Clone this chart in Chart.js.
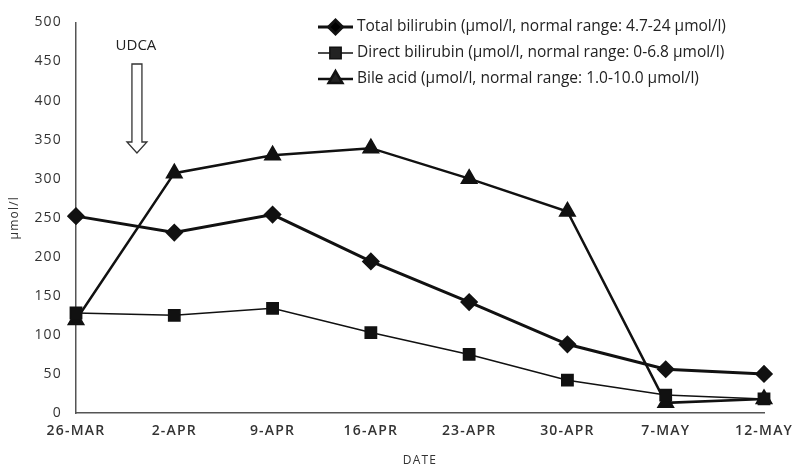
<!DOCTYPE html>
<html>
<head>
<meta charset="utf-8">
<script src="https://cdn.jsdelivr.net/npm/chart.js@4.4.0/dist/chart.umd.min.js"></script>
<style>
  html, body { margin: 0; padding: 0; background: #fff; }
  #wrap { width: 798px; height: 468px; }
</style>
</head>
<body>
<div id="wrap"><canvas id="myChart"></canvas></div>
<script>
// values
const dates = ['26-MAR', '2-APR', '9-APR', '16-APR', '23-APR', '30-APR', '7-MAY', '12-MAY'];
const totalBilirubin = [252, 231, 254, 194, 142, 88, 56, 50];
const directBilirubin = [128, 125, 134, 103, 75, 42, 23, 18];
const bileAcid = [119, 307, 330, 339, 300, 258, 13, 18];
const yTicks = [0, 50, 100, 150, 200, 250, 300, 350, 400, 450, 500];

const ink = '#111';

// legend: short line with the marker in the middle, then the label
const lineLegend = {
    id: 'lineLegend',
    afterDraw(chart) {
        const ctx = chart.ctx;
        ctx.save();
        ctx.letterSpacing = '0px';
        ctx.font = '15.5px "Open Sans", sans-serif';
        ctx.textBaseline = 'middle';
        chart.data.datasets.forEach(function (ds, i) {
            const y = 27 + i * 26;
            const x0 = 318, x1 = 353;
            ctx.strokeStyle = ink;
            ctx.lineWidth = ds.borderWidth;
            ctx.beginPath();
            ctx.moveTo(x0, y);
            ctx.lineTo(x1, y);
            ctx.stroke();
            Chart.helpers.drawPoint(ctx, {
                pointStyle: ds.pointStyle,
                radius: ds.pointRadius,
                borderWidth: 1
            }, (x0 + x1) / 2, y);
            ctx.fillStyle = '#222';
            ctx.fillText(ds.label, 357, y);
        });
        ctx.restore();
    }
};

// the hollow UDCA arrow and its label
const udcaArrow = {
    id: 'udcaArrow',
    afterDraw(chart) {
        const ctx = chart.ctx;
        const x = chart.scales.x.getPixelForValue(0.62);
        const top = 64, neck = 142, tip = 153;
        ctx.save();
        ctx.letterSpacing = '0px';
        ctx.fillStyle = '#222';
        ctx.font = '15px "Open Sans", sans-serif';
        ctx.textAlign = 'center';
        ctx.textBaseline = 'middle';
        ctx.fillText('UDCA', x - 1, 46);
        ctx.strokeStyle = '#333';
        ctx.lineWidth = 1.3;
        ctx.beginPath();
        ctx.moveTo(x - 5, top);
        ctx.lineTo(x + 5, top);
        ctx.lineTo(x + 5, neck);
        ctx.lineTo(x + 10, neck);
        ctx.lineTo(x, tip);
        ctx.lineTo(x - 10, neck);
        ctx.lineTo(x - 5, neck);
        ctx.closePath();
        ctx.stroke();
        ctx.restore();
    }
};

const spacing = {
    id: 'spacing',
    beforeDraw(chart) {
        chart.ctx.letterSpacing = '1.2px';
    }
};

new Chart(document.getElementById('myChart'), {
    type: 'line',
    data: {
        labels: dates,
        datasets: [
            {
                label: 'Total bilirubin (μmol/l, normal range: 4.7-24 μmol/l)',
                data: totalBilirubin,
                borderColor: ink,
                backgroundColor: ink,
                borderWidth: 3,
                pointStyle: 'rectRot',
                pointRadius: 7,
                pointHoverRadius: 7,
                tension: 0
            },
            {
                label: 'Direct bilirubin (μmol/l, normal range: 0-6.8 μmol/l)',
                data: directBilirubin,
                borderColor: ink,
                backgroundColor: ink,
                borderWidth: 1.5,
                pointStyle: 'rect',
                pointRadius: 8,
                pointHoverRadius: 8,
                tension: 0
            },
            {
                label: 'Bile acid (μmol/l, normal range: 1.0-10.0 μmol/l)',
                data: bileAcid,
                borderColor: ink,
                backgroundColor: ink,
                borderWidth: 2.5,
                pointStyle: 'triangle',
                pointRadius: 8,
                pointHoverRadius: 8,
                tension: 0
            }
        ]
    },
    options: {
        responsive: true,
        maintainAspectRatio: false,
        animation: false,
        layout: { padding: { top: 22, right: 34, left: 0, bottom: 0 } },
        plugins: {
            legend: { display: false },
            tooltip: { enabled: false }
        },
        scales: {
            x: {
                offset: false,
                grid: { display: false, drawTicks: true, tickLength: 6, tickColor: '#555' },
                border: { color: '#555', width: 1.5 },
                ticks: {
                    color: '#333',
                    font: { family: '"Open Sans", sans-serif', size: 14, weight: '600' },
                    maxRotation: 0,
                    autoSkip: false,
                    padding: 4
                },
                title: {
                    display: true,
                    text: 'DATE',
                    color: '#333',
                    font: { family: '"Open Sans", sans-serif', size: 12 },
                    padding: { top: 2, bottom: 0 }
                },
                afterFit(scale) { scale.height = 55; }
            },
            y: {
                min: 0,
                max: 500,
                afterBuildTicks(scale) { scale.ticks = yTicks.map(v => ({ value: v })); },
                grid: { display: false, drawTicks: false },
                border: { color: '#555', width: 1.5 },
                ticks: {
                    color: '#333',
                    font: { family: '"Open Sans", sans-serif', size: 14 },
                    padding: 14
                },
                title: {
                    display: true,
                    text: 'μmol/l',
                    color: '#333',
                    font: { family: '"Open Sans", sans-serif', size: 12 },
                    padding: { top: 7, bottom: 0 }
                },
                afterFit(scale) { scale.width = 76; }
            }
        }
    },
    plugins: [spacing, lineLegend, udcaArrow]
});
</script>
</body>
</html>
